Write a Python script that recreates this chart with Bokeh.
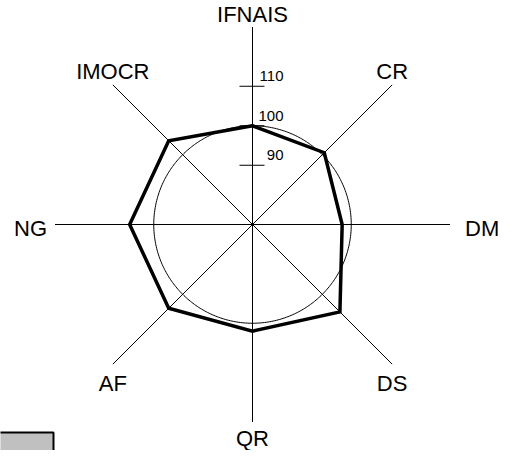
import numpy as np
from bokeh.plotting import figure
from bokeh.models import Range1d
from bokeh.core.properties import value
from bokeh.embed import file_html
from bokeh.resources import INLINE

# ---- data ----
categories = ["IFNAIS", "CR", "DM", "DS", "QR", "AF", "NG", "IMOCR"]
scores = [100.0, 100.7, 97.7, 106.3, 102.0, 105.0, 106.1, 105.0]
tick_values = [90, 100, 110]
tick_labels = ["90", "100", "110"]
reference_level = 100
r_min, r_max = 75, 125

PX = 3.95  # pixels per unit


def rad(v):
    return (np.asarray(v, dtype=float) - r_min) * PX


n = len(categories)
ang = np.arange(n) * 2 * np.pi / n  # clockwise from top
sx, cy = np.sin(ang), np.cos(ang)

p = figure(width=508, height=450, x_range=Range1d(-252, 256), y_range=Range1d(-226, 224),
           output_backend="svg", toolbar_location=None, min_border=0,
           x_axis_location=None, y_axis_location=None,
           outline_line_color=None, background_fill_color="white")
p.xgrid.visible = False
p.ygrid.visible = False

# spokes
R = rad(r_max)
p.segment(x0=np.zeros(n), y0=np.zeros(n), x1=R * sx, y1=R * cy, line_color="black", line_width=1)

# reference circle
t = np.linspace(0, 2 * np.pi, 361)
rr = rad(reference_level)
p.line(rr * np.sin(t), rr * np.cos(t), line_color="black", line_width=1)

# ticks on the vertical axis
tr = rad(tick_values)
p.segment(x0=np.full(len(tr), -13), y0=tr, x1=np.full(len(tr), 12), y1=tr, line_color="black", line_width=1)
p.text(x=np.full(len(tr), 31), y=tr + 10, text=tick_labels, text_align="right", text_baseline="middle",
       text_font=value("Liberation Sans"), text_font_size="15px", text_color="black")

# data polygon
rs = rad(scores)
px = list(rs * sx) + [rs[0] * sx[0]]
py = list(rs * cy) + [rs[0] * cy[0]]
p.line(px, py, line_color="black", line_width=3.5, line_join="miter")

# category labels
lx, ly, al = [], [], []
for i in range(n):
    ex, ey = R * sx[i], R * cy[i]
    if abs(sx[i]) > 0.9:  # horizontal
        if sx[i] > 0:
            lx.append(ex + 15); al.append("left")
        else:
            lx.append(ex - 8); al.append("right")
        ly.append(-4)
    else:
        lx.append(ex)
        al.append("center")
        if abs(sx[i]) < 0.1:
            ly.append(ey + 13 if cy[i] > 0 else ey - 16)
        else:
            ly.append(ey + 13 if cy[i] > 0 else ey - 19)
p.text(x=lx, y=ly, text=categories, text_align=al, text_baseline="middle",
       text_font=value("Liberation Sans"), text_font_size="22px", text_color="black")

# gray box at bottom-left (clipped)
p.quad(left=[-300], right=[-199], bottom=[-300], top=[-208], fill_color="#c0c0c0",
       line_color="black", line_width=2)

open("out.html", "w").write(file_html(p, INLINE))
